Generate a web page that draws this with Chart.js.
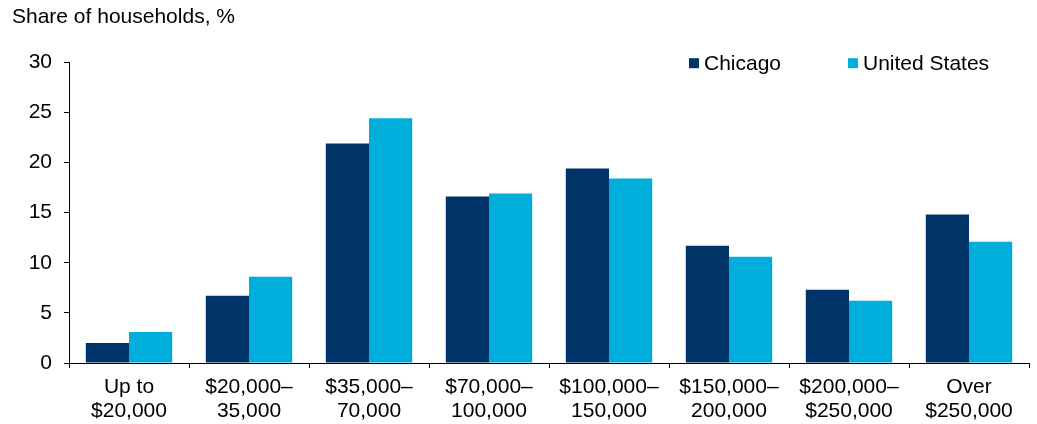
<!DOCTYPE html>
<html>
<head>
<meta charset="utf-8">
<script src="https://cdn.jsdelivr.net/npm/chart.js@4"></script>
<style>
  body { margin: 0; background: #fff; }
  #wrap { width: 1037px; height: 424px; position: relative; }
</style>
</head>
<body>
<div id="wrap"><canvas id="chart"></canvas></div>
<script>
const categories = [
  ["Up to", "$20,000"],
  ["$20,000\u2013", "35,000"],
  ["$35,000\u2013", "70,000"],
  ["$70,000\u2013", "100,000"],
  ["$100,000\u2013", "150,000"],
  ["$150,000\u2013", "200,000"],
  ["$200,000\u2013", "$250,000"],
  ["Over", "$250,000"]
];
const chicago = [2.0, 6.7, 21.9, 16.6, 19.4, 11.7, 7.3, 14.8];
const unitedStates = [3.1, 8.6, 24.4, 16.9, 18.4, 10.6, 6.2, 12.1];
const yTicks = [0, 5, 10, 15, 20, 25, 30];

const FONT = "'Liberation Sans', Arial, sans-serif";
Chart.defaults.font.family = FONT;
Chart.defaults.font.size = 21;
Chart.defaults.color = '#000';

// legend drawn inside the plot, top right
const legendInside = {
  id: 'legendInside',
  afterDraw(chart) {
    const ctx = chart.ctx;
    const area = chart.chartArea;
    const xs = [area.right - 340, area.right - 181];
    const y = area.top + 1;
    ctx.save();
    ctx.font = '21px ' + FONT;
    ctx.textBaseline = 'middle';
    ctx.textAlign = 'left';
    chart.data.datasets.forEach((ds, i) => {
      ctx.fillStyle = ds.backgroundColor;
      ctx.fillRect(xs[i], y - 5, 10, 10);
      ctx.fillStyle = '#000';
      ctx.fillText(ds.label, xs[i] + 15, y + 1);
    });
    ctx.restore();
  }
};

new Chart(document.getElementById('chart'), {
  type: 'bar',
  data: {
    labels: categories,
    datasets: [
      { label: 'Chicago', data: chicago, backgroundColor: '#003468', borderWidth: 0 },
      { label: 'United States', data: unitedStates, backgroundColor: '#00aedb', borderWidth: 0 }
    ]
  },
  options: {
    responsive: true,
    maintainAspectRatio: false,
    animation: false,
    categoryPercentage: 0.72,
    barPercentage: 1.0,
    layout: { padding: { left: 12, right: 8, top: 0, bottom: 0 } },
    plugins: {
      legend: { display: false },
      tooltip: { enabled: false },
      title: {
        display: true,
        text: 'Share of households, %',
        align: 'start',
        color: '#000',
        font: { size: 21, weight: 'normal' },
        padding: { top: 5, bottom: 32 }
      }
    },
    scales: {
      x: {
        afterFit(scale) { scale.height = 61; },
        grid: {
          offset: true,
          drawOnChartArea: false,
          drawTicks: true,
          tickLength: 5,
          color: '#000'
        },
        border: { display: true, color: '#000', width: 1 },
        ticks: { padding: 7, maxRotation: 0, autoSkip: false, font: { size: 21, lineHeight: 1.15 } }
      },
      y: {
        min: 0,
        max: 30,
        afterBuildTicks(scale) {
          scale.ticks = yTicks.map(v => ({ value: v }));
        },
        afterFit(scale) { scale.width = 57; },
        grid: {
          drawOnChartArea: false,
          drawTicks: true,
          tickLength: 5,
          color: '#000'
        },
        border: { display: true, color: '#000', width: 1 },
        ticks: { padding: 12, font: { size: 21 } }
      }
    }
  },
  plugins: [legendInside]
});
</script>
</body>
</html>
